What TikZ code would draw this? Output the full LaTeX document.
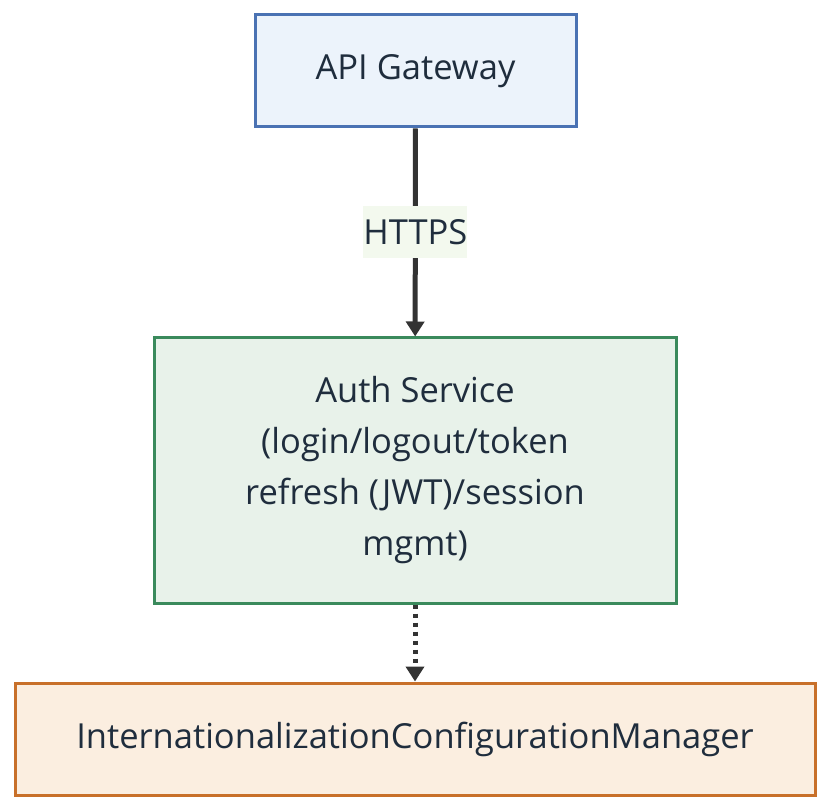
\documentclass[tikz,border=0pt]{standalone}
\usepackage{fontspec}
\setmainfont{Open Sans}
\usetikzlibrary{arrows.meta}

\definecolor{gwline}{HTML}{4A72B3}
\definecolor{gwfill}{HTML}{ECF3FB}
\definecolor{authline}{HTML}{3A8A5C}
\definecolor{authfill}{HTML}{E8F2EA}
\definecolor{cfgline}{HTML}{C8702A}
\definecolor{cfgfill}{HTML}{FBEEE0}
\definecolor{lblfill}{HTML}{F3F9EE}
\definecolor{ink}{HTML}{333333}
\definecolor{txt}{HTML}{1F2D3D}

\tikzset{
  svc/.style={draw, line width=3pt, rectangle, align=center, text=txt,
    font=\fontsize{34.5}{51}\selectfont, inner sep=0pt},
  flow/.style={draw=ink, line width=5pt, -{Triangle[width=18pt,length=15pt]}},
}

\begin{document}
\begin{tikzpicture}[x=1pt,y=-1pt]
        \useasboundingbox (0,0) rectangle (830,810);

        \node[svc, draw=gwline, fill=gwfill, minimum width=321pt, minimum height=112pt]
          at (415.5,71) (gateway) {API Gateway};
        \node[svc, draw=authline, fill=authfill, minimum width=522pt, minimum height=265pt]
          at (415,470.5) (auth) {Auth Service\\(login/logout/token\\refresh (JWT)/session\\mgmt)};
        \node[svc, draw=cfgline, fill=cfgfill, minimum width=800pt, minimum height=112pt]
          at (415,739) (config) {InternationalizationConfigurationManager};

        \draw[flow] (gateway) -- (auth)
          node[midway, fill=lblfill, text=txt, inner sep=0pt, minimum width=104pt,
            minimum height=52pt, font=\fontsize{34.5}{40}\selectfont] (https) {HTTPS};
        \draw[flow, dash pattern=on 4pt off 5pt] (auth) -- (config);
\end{tikzpicture}
\end{document}
